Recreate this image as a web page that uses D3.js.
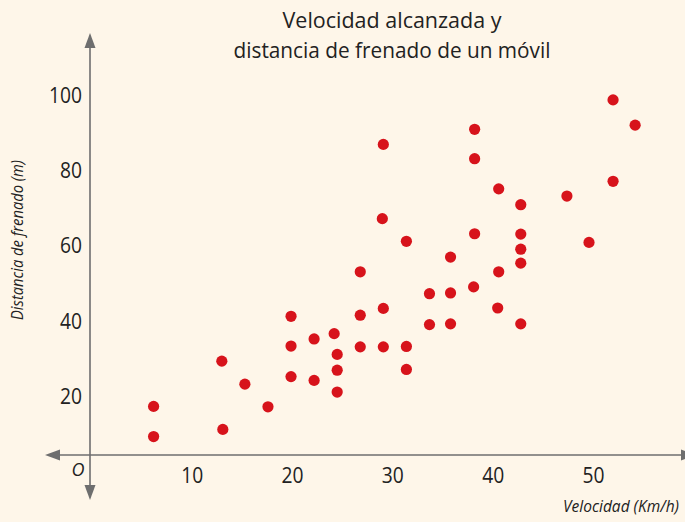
<!DOCTYPE html>
<html>
<head>
<meta charset="utf-8">
<script src="https://cdn.jsdelivr.net/npm/d3@7"></script>
<style>
  html, body { margin: 0; padding: 0; background: #fef6e9; }
  svg { display: block; }
  text { font-family: "Open Sans", "Noto Sans", sans-serif; fill: #222; }
</style>
</head>
<body>
<svg id="chart" width="685" height="522"></svg>
<script>
// Velocidad (km/h) and distancia de frenado (m) of each measured vehicle
const velocidad = [
  52.0, 54.2, 38.2, 29.1, 38.2, 40.6, 42.8, 47.4, 52.0, 29.0,
  31.4, 38.2, 42.8, 42.8, 49.6, 35.8, 42.8, 40.6, 26.8, 33.7,
  33.7, 19.9, 26.8, 29.1, 19.9, 22.2, 24.2, 24.5, 26.8, 29.1,
  31.4, 31.4, 13.0, 15.3, 19.9, 22.2, 24.5, 24.5, 17.6, 6.2,
  6.2, 13.1, 35.8, 35.8, 38.1, 40.5, 42.8
];
const distancia = [
  98.7, 92.0, 90.9, 86.9, 83.1, 75.1, 70.9, 73.2, 77.1, 67.2,
  61.2, 63.2, 63.1, 59.1, 60.9, 57.0, 55.4, 53.1, 53.1, 47.3,
  39.1, 41.3, 41.6, 43.4, 33.4, 35.3, 36.7, 31.2, 33.2, 33.2,
  33.3, 27.2, 29.4, 23.3, 25.3, 24.3, 27.0, 21.2, 17.3, 17.4,
  9.4, 11.3, 47.5, 39.3, 49.1, 43.5, 39.3
];
const xTicks = [10, 20, 30, 40, 50];
const yTicks = [20, 40, 60, 80, 100];
const titleLines = ["Velocidad alcanzada y", "distancia de frenado de un móvil"];

const points = velocidad.map((v, i) => ({ v, d: distancia[i] }));

const svg = d3.select("#chart");
const axisColor = "#6e6e6e";
const dotColor = "#d7131b";

const x = d3.scaleLinear().domain([0, 50]).range([91.4, 593]);
const y = d3.scaleLinear().domain([0, 100]).range([472, 95]);

// The horizontal axis sits slightly above the zero of the distance scale
const axisYpos = y(4.5);
const axisXpos = x(0) - 1.4;

// Title
svg.append("g").selectAll("text").data(titleLines).join("text")
  .attr("x", 392).attr("y", (d, i) => 28 + i * 30)
  .attr("text-anchor", "middle")
  .attr("font-size", 21)
  .attr("fill", "#111")
  .attr("textLength", (d, i) => i === 0 ? 219 : 317)
  .attr("lengthAdjust", "spacingAndGlyphs")
  .text(d => d);

// Axis lines with arrowheads
const axes = svg.append("g").attr("stroke", axisColor).attr("stroke-width", 1.6);
axes.append("line").attr("x1", 55).attr("x2", 685).attr("y1", axisYpos).attr("y2", axisYpos);
axes.append("line").attr("x1", axisXpos).attr("x2", axisXpos).attr("y1", 42).attr("y2", 490);

const arrows = svg.append("g").attr("fill", axisColor);
const ah = 15, aw = 5.5;
arrows.append("path").attr("d", `M${axisXpos},33 L${axisXpos - aw},${33 + ah} L${axisXpos + aw},${33 + ah}Z`);
arrows.append("path").attr("d", `M${axisXpos},500 L${axisXpos - aw},${500 - ah} L${axisXpos + aw},${500 - ah}Z`);
arrows.append("path").attr("d", `M45,${axisYpos} L${45 + ah},${axisYpos - aw} L${45 + ah},${axisYpos + aw}Z`);
arrows.append("path").attr("d", `M696,${axisYpos} L${696 - ah},${axisYpos - aw} L${696 - ah},${axisYpos + aw}Z`);

// Tick labels (no tick marks), set in a narrow, tall style
const gx = svg.append("g")
  .attr("transform", `translate(0,${axisYpos})`)
  .call(d3.axisBottom(x).tickValues(xTicks).tickSize(0).tickPadding(12));
const gy = svg.append("g")
  .attr("transform", `translate(${axisXpos - 8},0)`)
  .call(d3.axisLeft(y).tickValues(yTicks).tickSize(0).tickPadding(0));
[gx, gy].forEach(g => {
  g.select(".domain").remove();
  g.selectAll("text")
    .attr("font-size", 22)
    .attr("fill", "#333")
    .attr("textLength", function () { return this.textContent.length * 11; })
    .attr("lengthAdjust", "spacingAndGlyphs");
});

// Origin label
svg.append("text").attr("x", 78).attr("y", 476)
  .attr("text-anchor", "middle").attr("font-style", "italic")
  .attr("font-size", 18).attr("fill", "#2a2a2a").text("O");

// Axis titles
svg.append("text")
  .attr("transform", "translate(23,240) rotate(-90)")
  .attr("text-anchor", "middle").attr("font-style", "italic")
  .attr("font-size", 17)
  .attr("textLength", 160).attr("lengthAdjust", "spacingAndGlyphs")
  .text("Distancia de frenado (m)");
svg.append("text")
  .attr("x", 679).attr("y", 512)
  .attr("text-anchor", "end").attr("font-style", "italic")
  .attr("font-size", 15.5)
  .text("Velocidad (Km/h)");

// Data points
svg.append("g").selectAll("circle").data(points).join("circle")
  .attr("cx", p => x(p.v))
  .attr("cy", p => y(p.d))
  .attr("r", 5.6)
  .attr("fill", dotColor);
</script>
</body>
</html>
